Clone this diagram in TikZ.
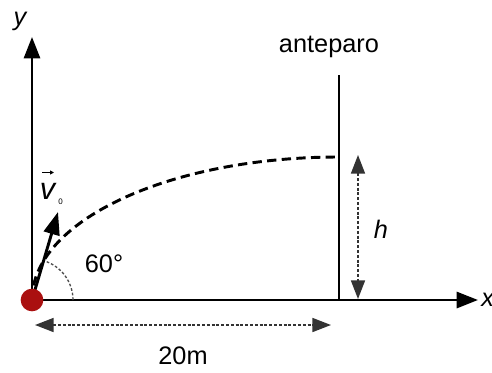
\documentclass[tikz,border=0pt]{standalone}
\usepackage{fontspec}
\setmainfont{Liberation Sans}
\usetikzlibrary{arrows.meta}
\begin{document}
\begin{tikzpicture}[x=0.75pt,y=-0.75pt,
  axis/.style={line width=2.2pt,-{Triangle[length=16pt,width=12pt]}},
  dimhead/.style={Triangle[length=14pt,width=10.5pt]},
  dimline/.style={line width=1.3pt,draw=black!80,dash pattern=on 2.2pt off 1.4pt,
    {Triangle[length=14pt,width=10.5pt]}-{Triangle[length=14pt,width=10.5pt]}},
  lbl/.style={font=\fontsize{19}{21}\selectfont,inner sep=0pt}]
\useasboundingbox (0,0) rectangle (492,372);
\coordinate (O) at (32,300);
\coordinate (ytip) at (32,37);
\coordinate (xtip) at (478,300);
\coordinate (stop) at (339,75);
\coordinate (sbot) at (339,300);
\coordinate (hit) at (339,157);
\coordinate (vtip) at (58,212);
\coordinate (hA) at (358,155);
\coordinate (hB) at (358,299);
\coordinate (dA) at (35,325);
\coordinate (dB) at (331,325);
% axes
\draw[axis] (O) -- (ytip);
\draw[axis] (O) -- (xtip);
% screen
\draw[line width=2.2pt] (sbot) -- (stop);
% trajectory
\draw[line width=2.2pt,dash pattern=on 7pt off 4pt] (O) .. controls (32,221) and (169,157) .. (hit);
% angle arc
\draw[line width=1pt,draw=black!70,dash pattern=on 2pt off 1.5pt] (73,300) arc[start angle=0,end angle=-73,x radius=41,y radius=41];
% velocity vector
\draw[line width=2.2pt,-{Triangle[length=17pt,width=12pt]}] (O) -- (vtip);
% ball
\node[circle,fill={rgb,255:red,170;green,16;blue,16},minimum size=17pt,inner sep=0pt] (ball) at (O) {};
% dimensions
\draw[dimline] (hA) -- (hB);
\draw[dimline] (dA) -- (dB);
% labels
\node[lbl,font=\fontsize{19}{21}\selectfont\itshape] (ylab) at (20,21) {y};
\node[lbl,font=\fontsize{19}{21}\selectfont\itshape,anchor=west] (xlab) at (481,300) {x};
\node[lbl] (ante) at (329,47) {anteparo};
\node[lbl,font=\fontsize{19}{21}\selectfont\itshape] (hlab) at (381,229) {h};
\node[lbl] (ang) at (104,264) {60°};
\node[lbl] (dist) at (183,356) {20m};
\node[lbl,font=\fontsize{23}{25}\selectfont\itshape] (vlab) at (47.5,191) {v};
\node[lbl,font=\fontsize{6}{7}\selectfont] (vsub) at (60.5,202) {0};
\draw[line width=0.7pt,-{Triangle[length=3pt,width=3pt]}] (42,172.5) -- (54,172.5);
\end{tikzpicture}
\end{document}
